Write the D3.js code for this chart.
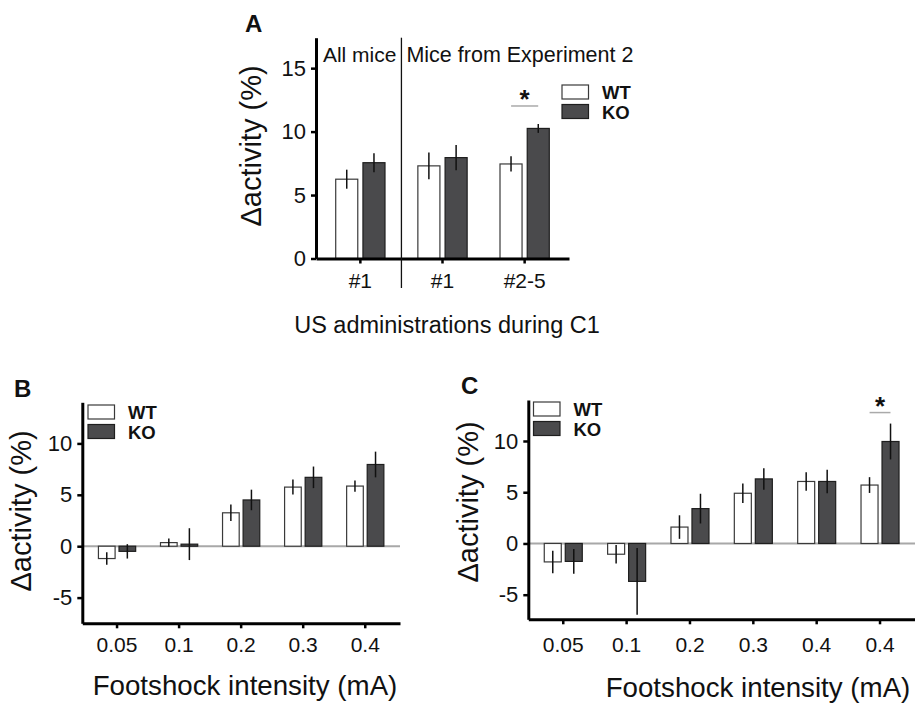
<!DOCTYPE html>
<html>
<head>
<meta charset="utf-8">
<script src="https://cdn.jsdelivr.net/npm/d3@7"></script>
<style>
body { margin: 0; background: #fff; }
svg text { font-family: Arial, "Liberation Sans", Helvetica, sans-serif; fill: #111; }
</style>
</head>
<body>
<div class="displayArea"></div>
<script>
// ---- data ----
var groups = ["WT", "KO"]

// panel A: US administrations during C1
var catsA = ["#1", "#1", "#2-5"]
var wtA = [6.25, 7.3, 7.45]
var wtErrA = [0.75, 1.05, 0.6]
var koA = [7.55, 7.95, 10.25]
var koErrA = [0.75, 1.0, 0.35]
var ticksA = [0, 5, 10, 15]
var sigA = [2] // category index with *

// panel B: footshock intensity
var catsB = ["0.05", "0.1", "0.2", "0.3", "0.4"]
var wtB = [-1.2, 0.35, 3.25, 5.75, 5.85]
var wtErrB = [0.6, 0.4, 0.8, 0.73, 0.55]
var koB = [-0.5, 0.2, 4.5, 6.7, 7.95]
var koErrB = [0.7, 1.55, 1.0, 1.05, 1.25]

// panel C: footshock intensity
var catsC = ["0.05", "0.1", "0.2", "0.3", "0.4", "0.4"]
var wtC = [-1.8, -1.05, 1.6, 4.9, 6.05, 5.7]
var wtErrC = [1.1, 0.9, 1.15, 0.95, 0.9, 0.77]
var koC = [-1.75, -3.7, 3.4, 6.3, 6.05, 9.95]
var koErrC = [1.2, 3.25, 1.45, 1.05, 1.15, 1.75]
var sigC = [5]

var ticksBC = [-5, 0, 5, 10]

var fill = { WT: "#ffffff", KO: "#4a4a4c" }
var stroke = { WT: "#3a3a3a", KO: "#1e1e1e" }

var svg = d3.select(".displayArea")
    .append("svg")
    .attr("width", 915)
    .attr("height", 704)

function drawPanel(p) {
    var x = d3.scaleBand()
        .domain(d3.range(p.cats.length))
        .range([p.left, p.right])
        .paddingInner(0)
        .paddingOuter(p.outer)
    var step = x.step()
    var sub = d3.scaleBand() // WT / KO inside a category
        .domain(groups)
        .range([-0.3 * step, 0.3 * step])
        .paddingInner(0.19)
    var y = d3.scaleLinear()
        .domain(p.yDomain)
        .range([p.bottom, p.top])

    var g = svg.append("g")
    var cx = function (i) { return x(i) + step / 2 }

    // zero reference line (B, C)
    if (p.zeroLine) {
        g.append("line")
            .attr("x1", p.left).attr("x2", p.right)
            .attr("y1", y(0)).attr("y2", y(0))
            .attr("stroke", "#a8a8a8")
            .attr("stroke-width", 2)
    }

    var rows = []
    p.cats.forEach(function (c, i) {
        rows.push({ i: i, grp: "WT", v: p.wt[i], e: p.wtErr[i] })
        rows.push({ i: i, grp: "KO", v: p.ko[i], e: p.koErr[i] })
    })

    g.selectAll("rect.bar")
        .data(rows)
        .enter()
        .append("rect")
        .attr("class", "bar")
        .attr("x", function (d) { return cx(d.i) + sub(d.grp) })
        .attr("y", function (d) { return y(Math.max(0, d.v)) })
        .attr("width", sub.bandwidth())
        .attr("height", function (d) { return Math.abs(y(d.v) - y(0)) })
        .attr("fill", function (d) { return fill[d.grp] })
        .attr("stroke", function (d) { return stroke[d.grp] })
        .attr("stroke-width", 1.2)

    // error bars, no caps
    g.selectAll("line.err")
        .data(rows)
        .enter()
        .append("line")
        .attr("class", "err")
        .attr("x1", function (d) { return cx(d.i) + sub(d.grp) + sub.bandwidth() / 2 })
        .attr("x2", function (d) { return cx(d.i) + sub(d.grp) + sub.bandwidth() / 2 })
        .attr("y1", function (d) { return y(d.v + d.e) })
        .attr("y2", function (d) { return y(d.v - d.e) })
        .attr("stroke", "#111")
        .attr("stroke-width", 1.5)

    // axes
    var xAxis = d3.axisBottom(x)
        .tickSize(5)
        .tickSizeOuter(0)
        .tickPadding(p.xPad)
        .tickFormat(function (i) { return p.cats[i] })
    var yAxis = d3.axisLeft(y)
        .tickValues(p.yTicks)
        .tickSize(5)
        .tickSizeOuter(0)
        .tickPadding(5)
        .tickFormat(function (d) { return String(d) }) // plain hyphen for -5

    var gx = g.append("g")
        .attr("transform", "translate(0," + p.bottom + ")")
        .call(xAxis)
    var gy = g.append("g")
        .attr("transform", "translate(" + p.left + ",0)")
        .call(yAxis)
    ;[gx, gy].forEach(function (a) {
        a.select(".domain").attr("stroke", "#000").attr("stroke-width", 3)
        a.selectAll(".tick line").attr("stroke", "#000").attr("stroke-width", 2.5)
        a.selectAll(".tick text").attr("font-size", p.tickFont).attr("fill", "#111")
    })
    gy.selectAll(".tick text").attr("font-size", p.tickFont + 1)

    // significance markers
    p.sig.forEach(function (i) {
        var top = y(d3.max([p.wt[i] + p.wtErr[i], p.ko[i] + p.koErr[i]]))
        var ly = top - p.sigGap
        g.append("line")
            .attr("x1", cx(i) - 0.165 * step).attr("x2", cx(i) + 0.165 * step)
            .attr("y1", ly).attr("y2", ly)
            .attr("stroke", "#aaaaaa")
            .attr("stroke-width", 1.5)
        g.append("text")
            .attr("x", cx(i))
            .attr("y", ly + 2)
            .attr("text-anchor", "middle")
            .attr("font-size", 26)
            .attr("font-weight", "bold")
            .text("*")
    })

    // legend
    groups.forEach(function (grp, k) {
        var ly = p.legY + k * 19.5
        g.append("rect")
            .attr("x", p.legX).attr("y", ly)
            .attr("width", 26.5).attr("height", 14)
            .attr("fill", fill[grp])
            .attr("stroke", stroke[grp])
            .attr("stroke-width", 1.2)
        g.append("text")
            .attr("x", p.legX + 40).attr("y", ly + 14.3)
            .attr("font-size", 18.5)
            .attr("font-weight", "bold")
            .text(grp)
    })

    // titles
    g.append("text")
        .attr("transform", "translate(" + p.yTitle[0] + "," + p.yTitle[1] + ") rotate(-90)")
        .attr("text-anchor", "middle")
        .attr("font-size", 29)
        .text("\u0394activity (%)")
    g.append("text")
        .attr("x", p.xTitle[0]).attr("y", p.xTitle[1])
        .attr("text-anchor", "middle")
        .attr("font-size", p.xTitleFont)
        .text(p.xTitleText)
    g.append("text")
        .attr("x", p.letter[0]).attr("y", p.letter[1])
        .attr("font-size", 24)
        .attr("font-weight", "bold")
        .text(p.name)

    return { x: x, y: y, g: g, cx: cx }
}

var a = drawPanel({
    name: "A", cats: catsA, wt: wtA, wtErr: wtErrA, ko: koA, koErr: koErrA, sig: sigA,
    left: 316, right: 569, top: 37.7, bottom: 258.5, outer: 0.04,
    yDomain: [0, 17.4], yTicks: ticksA, zeroLine: false,
    tickFont: 21, xPad: 10, sigGap: 18,
    legX: 562, legY: 85,
    yTitle: [261, 146], xTitle: [447, 333], xTitleFont: 23.5,
    xTitleText: "US administrations during C1", letter: [245, 32]
})

// divider and group headers in panel A
var divX = (a.cx(0) + a.cx(1)) / 2
a.g.append("line")
    .attr("x1", divX).attr("x2", divX)
    .attr("y1", 37.7).attr("y2", 288)
    .attr("stroke", "#111")
    .attr("stroke-width", 1.3)
a.g.append("text")
    .attr("x", divX - 5).attr("y", 62)
    .attr("text-anchor", "end")
    .attr("font-size", 21)
    .text("All mice")
a.g.append("text")
    .attr("x", divX + 5).attr("y", 62)
    .attr("font-size", 21.5)
    .text("Mice from Experiment 2")

drawPanel({
    name: "B", cats: catsB, wt: wtB, wtErr: wtErrB, ko: koB, koErr: koErrB, sig: [],
    left: 82.3, right: 400, top: 402.3, bottom: 623.3, outer: 0.06,
    yDomain: [-7.5, 14], yTicks: ticksBC, zeroLine: true,
    tickFont: 21, xPad: 8.5, sigGap: 14,
    legX: 88, legY: 405,
    yTitle: [31, 511], xTitle: [245, 695], xTitleFont: 27.7,
    xTitleText: "Footshock intensity (mA)", letter: [14, 397]
})

drawPanel({
    name: "C", cats: catsC, wt: wtC, wtErr: wtErrC, ko: koC, koErr: koErrC, sig: sigC,
    left: 528.3, right: 915, top: 400, bottom: 619.3, outer: 0.052,
    yDomain: [-7.4, 14], yTicks: ticksBC, zeroLine: true,
    tickFont: 21, xPad: 12.5, sigGap: 11,
    legX: 533.5, legY: 402,
    yTitle: [478, 502], xTitle: [758, 697], xTitleFont: 27.7,
    xTitleText: "Footshock intensity (mA)", letter: [461, 394]
})
</script>
</body>
</html>
